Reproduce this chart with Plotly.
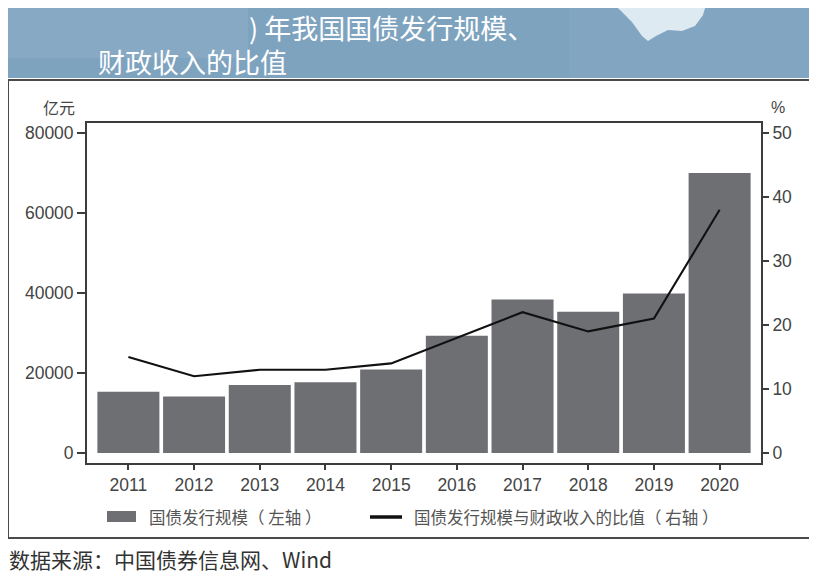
import plotly.graph_objects as go

years = ['2011', '2012', '2013', '2014', '2015', '2016', '2017', '2018', '2019', '2020']
issuance = [15300, 14100, 17000, 17700, 20900, 29300, 38400, 35300, 39900, 70000]
ratio = [15, 12, 13, 13, 14, 18, 22, 19, 21, 38]

# page body has an 8px margin, so the figure is drawn 8px in and 8px down
OFF = 8
W, H = 817 - OFF, 579 - OFF
CJK = 'Noto Sans CJK SC'
NUM = 'Liberation Sans, Noto Sans CJK SC'
BAR = '#6e6f73'
AX = '#3c3c3c'


def px(x):
  return (x - OFF) / W


def py(y):
  return 1 - (y - OFF) / H


def rect(x0, y0, x1, y1, fill, line=None, lw=0):
  return dict(type='rect', xref='paper', yref='paper',
              x0=px(x0), x1=px(x1), y0=py(y1), y1=py(y0),
              fillcolor=fill, line=dict(color=line or fill, width=lw),
              layer='below')


fig = go.Figure()
fig.add_trace(go.Bar(
  x=years,
  y=issuance,
  name='国债发行规模（左轴）',
  marker=dict(color=BAR, line=dict(width=0)),
  yaxis='y',
))
fig.add_trace(go.Scatter(
  x=years,
  y=ratio,
  mode='lines',
  name='国债发行规模与财政收入的比值（右轴）',
  line=dict(color='#111111', width=2.1),
  yaxis='y2',
))

# header band (blue block with partly covered title)
blob = [(618, 8), (705, 8), (703, 15), (695, 26), (682, 31), (668, 30), (656, 36),
        (648, 41), (642, 36), (632, 22), (622, 12)]
blob_path = 'M' + 'L'.join(f'{px(x):.4f},{py(y):.4f}' for x, y in blob) + 'Z'

shapes = [
  rect(7, 8, 811, 78, '#7ea3bf'),
  rect(3, 3, 248, 58, '#87a9c4'),
  rect(569, 3, 811, 78, '#82a6c2'),
  dict(type='path', xref='paper', yref='paper', path=blob_path,
       fillcolor='rgba(232,242,247,0.9)', line=dict(width=0), layer='below'),
  # outer frame
  dict(type='rect', xref='paper', yref='paper', x0=px(8), x1=px(811), y0=py(538), y1=py(80),
       line=dict(color='#4a4a4a', width=2), fillcolor='rgba(0,0,0,0)', layer='below'),
  # legend marks
  rect(107, 511, 136, 522, BAR),
  dict(type='line', xref='paper', yref='paper', x0=px(370), x1=px(402), y0=py(517), y1=py(517),
       line=dict(color='#111111', width=3.5)),
]

annotations = [
  dict(x=px(248), y=py(27), text=') 年我国国债发行规模、', font=dict(family=CJK, size=27, color='white')),
  dict(x=px(97), y=py(62), text='财政收入的比值', font=dict(family=CJK, size=27, color='white')),
  dict(x=px(59), y=py(107), text='亿元', xanchor='center', font=dict(family=CJK, size=16, color='#444444')),
  dict(x=px(778), y=py(107), text='%', xanchor='center', font=dict(family=NUM, size=16, color='#444444')),
  dict(x=px(148), y=py(517), text='国债发行规模（ 左轴 ）', font=dict(family=CJK, size=16.5, color='#555555')),
  dict(x=px(413), y=py(517), text='国债发行规模与财政收入的比值（ 右轴 ）', font=dict(family=CJK, size=16.5, color='#555555')),
  dict(x=px(8), y=py(559), text='数据来源：中国债券信息网、Wind', font=dict(family=CJK, size=21, color='#333333')),
]
for a in annotations:
  a.setdefault('xanchor', 'left')
  a.update(xref='paper', yref='paper', yanchor='middle', showarrow=False, borderpad=0)

tick_font = dict(family=NUM, size=17.5, color='#444444')

fig.update_layout(
  width=W,
  height=H,
  margin=dict(l=0, r=0, t=0, b=0),
  paper_bgcolor='white',
  plot_bgcolor='white',
  showlegend=False,
  bargap=0.056,
  font=dict(family=NUM, size=16, color='#444444'),
  xaxis=dict(
    domain=[px(87), px(761)],
    type='category',
    range=[-0.63, 9.63],
    showline=True,
    mirror=True,
    linecolor=AX,
    linewidth=1.8,
    ticks='outside',
    ticklen=5,
    tickwidth=1.5,
    tickcolor=AX,
    showgrid=False,
    tickfont=tick_font,
  ),
  yaxis=dict(
    domain=[py(463), py(123)],
    range=[-2500, 82500],
    tickvals=[0, 20000, 40000, 60000, 80000],
    tickformat='d',
    showline=True,
    linecolor=AX,
    linewidth=1.8,
    ticks='outside',
    ticklen=8,
    tickwidth=1.5,
    tickcolor=AX,
    showgrid=False,
    zeroline=False,
    tickfont=tick_font,
  ),
  yaxis2=dict(
    overlaying='y',
    side='right',
    range=[-1.57, 51.57],
    tickvals=[0, 10, 20, 30, 40, 50],
    showline=True,
    linecolor=AX,
    linewidth=1.8,
    ticks='outside',
    ticklen=6,
    tickwidth=1.5,
    tickcolor=AX,
    showgrid=False,
    zeroline=False,
    tickfont=tick_font,
  ),
  shapes=shapes,
  annotations=annotations,
)

fig.write_html('out.html')
